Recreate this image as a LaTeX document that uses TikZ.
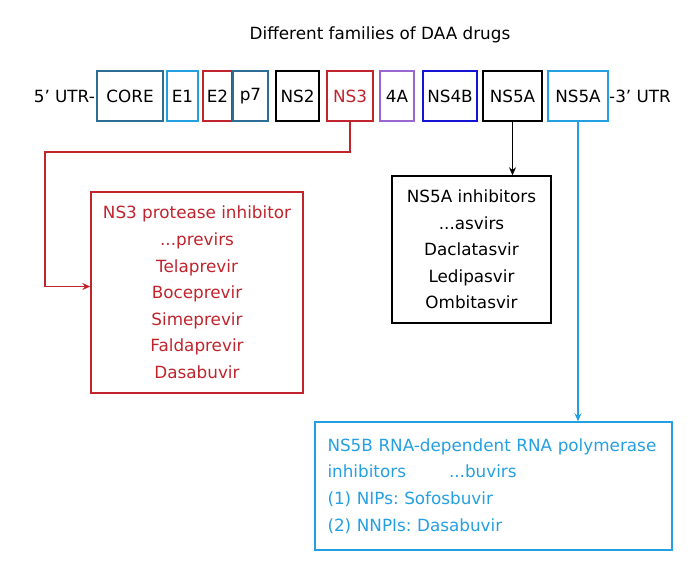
\documentclass[tikz,border=0pt]{standalone}
\usepackage{fontspec}
\setmainfont{DejaVu Sans}
\usetikzlibrary{positioning,arrows.meta}
\frenchspacing

\definecolor{coreblue}{RGB}{46,110,150}
\definecolor{lightblue}{RGB}{36,160,225}
\definecolor{ns3red}{RGB}{192,36,45}
\definecolor{lilac}{RGB}{153,102,210}
\definecolor{deepblue}{RGB}{20,20,210}

\tikzset{
    gene/.style={draw, line width=1.4pt, minimum height=50pt, inner sep=0pt, outer sep=0pt},
    drugbox/.style={draw, line width=1.4pt, align=center, inner sep=0pt}
}

\begin{document}
\begin{tikzpicture}[x=1pt, y=-1pt, >={Stealth[length=8pt,width=7pt]}, font=\fontsize{16.8}{26.6}\selectfont]
        \useasboundingbox (0,0) rectangle (700,571);

        % Title
        \node (title) at (380,35) {Different families of DAA drugs};

        % Genome
        \node (core) [gene, draw=coreblue, minimum width=66pt] at (130,96) {CORE};
        \node (e1) [gene, draw=lightblue, minimum width=31pt, right=4pt of core] {E1};
        \node (e2) [gene, draw=ns3red, minimum width=29pt, right=5pt of e1] {E2};
        \node (p7) [gene, draw=coreblue, minimum width=35pt, right=1pt of e2] {p7};
        \node (ns2) [gene, minimum width=43pt, right=8pt of p7] {NS2};
        \node (ns3) [gene, draw=ns3red, text=ns3red, minimum width=46pt, right=8pt of ns2] {NS3};
        \node (ns4a) [gene, draw=lilac, minimum width=34pt, right=7pt of ns3] {4A};
        \node (ns4b) [gene, draw=deepblue, minimum width=54pt, right=9pt of ns4a] {NS4B};
        \node (ns5a) [gene, minimum width=59pt, right=6pt of ns4b] {NS5A};
        \node (ns5b) [gene, draw=lightblue, minimum width=60pt, right=6pt of ns5a] {NS5A};

        \node (utr5) [inner sep=0pt, left=2pt of core] {5’ UTR-};
        \node (utr3) [inner sep=0pt, right=1pt of ns5b] {-3’ UTR};

        % Drug families
        \node (ns3inh) [drugbox, draw=ns3red, text=ns3red, minimum width=212pt, minimum height=201pt] at (197,292.5) {
            NS3 protease inhibitor\\...previrs\\Telaprevir\\Boceprevir\\Simeprevir\\Faldaprevir\\Dasabuvir
        };

        \node (ns5ainh) [drugbox, minimum width=159pt, minimum height=147pt] at (471.5,249.5) {
            NS5A inhibitors\\...asvirs\\Daclatasvir\\Ledipasvir\\Ombitasvir
        };

        \node (ns5binh) [drugbox, draw=lightblue, text=lightblue, align=left, text width=332pt, inner xsep=12.5pt, minimum height=128pt] at (493.5,486) {
            NS5B RNA-dependent RNA polymerase\\inhibitors\hspace{43pt}...buvirs\\(1) NIPs: Sofosbuvir\\(2) NNPIs: Dasabuvir
        };

        % Connecting lines
        \coordinate (redbend) at (45,152);
        \draw[->, ns3red, line width=1.4pt] (ns3.south) |- (redbend) |- ([yshift=6pt]ns3inh.west);
        \draw[->, line width=1.4pt] (ns5a.south) -- (ns5a.south |- ns5ainh.north);
        \draw[->, lightblue, line width=1.4pt] (ns5b.south) -- (ns5b.south |- ns5binh.north);
    \end{tikzpicture}
\end{document}
